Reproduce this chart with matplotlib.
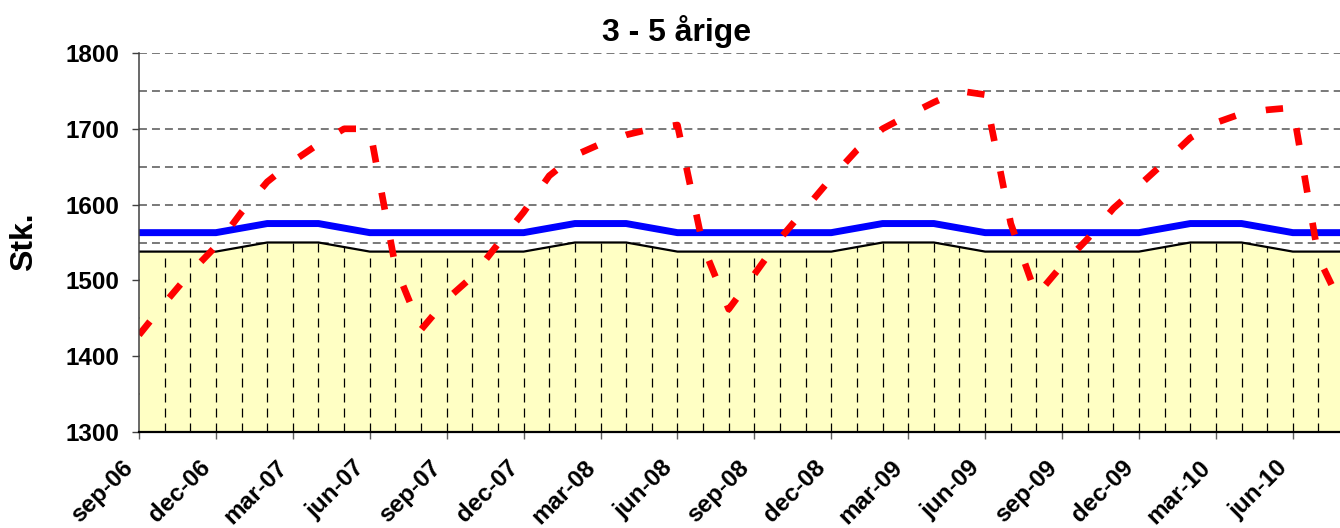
import matplotlib
matplotlib.use("Agg")
import matplotlib.pyplot as plt
import matplotlib.transforms as mtransforms
import numpy as np

plt.rcParams['font.family'] = ['Liberation Sans', 'DejaVu Sans']
plt.rcParams['font.weight'] = 'bold'

# monthly values, sep-06 .. aug-10
faktisk = [1428, 1470, 1510, 1545, 1590, 1630, 1657, 1680, 1700, 1700, 1518, 1435,
           1475, 1505, 1548, 1590, 1638, 1665, 1680, 1692, 1700, 1705, 1545, 1462,
           1508, 1555, 1595, 1635, 1672, 1700, 1718, 1735, 1750, 1745, 1575, 1480,
           1520, 1555, 1595, 1625, 1656, 1688, 1708, 1720, 1725, 1728, 1530, 1460]
kapacitet = [1563, 1563, 1563, 1563, 1569, 1575, 1575, 1575, 1569, 1563, 1563, 1563,
             1563, 1563, 1563, 1563, 1569, 1575, 1575, 1575, 1569, 1563, 1563, 1563,
             1563, 1563, 1563, 1563, 1569, 1575, 1575, 1575, 1569, 1563, 1563, 1563,
             1563, 1563, 1563, 1563, 1569, 1575, 1575, 1575, 1569, 1563, 1563, 1563]
normering = [1538, 1538, 1538, 1538, 1544, 1550, 1550, 1550, 1544, 1538, 1538, 1538,
             1538, 1538, 1538, 1538, 1544, 1550, 1550, 1550, 1544, 1538, 1538, 1538,
             1538, 1538, 1538, 1538, 1544, 1550, 1550, 1550, 1544, 1538, 1538, 1538,
             1538, 1538, 1538, 1538, 1544, 1550, 1550, 1550, 1544, 1538, 1538, 1538]
tick_labels = ['sep-06', 'dec-06', 'mar-07', 'jun-07', 'sep-07', 'dec-07', 'mar-08',
               'jun-08', 'sep-08', 'dec-08', 'mar-09', 'jun-09', 'sep-09', 'dec-09',
               'mar-10', 'jun-10']

x = np.arange(len(faktisk))
ymin = 1300

fig = plt.figure(figsize=(13.4, 5.28), dpi=100)
ax = fig.add_axes([139 / 1340, 96 / 528, 1 - 139 / 1340, 379 / 528])

# horizontal grid (behind the fill)
for g in np.arange(1350, 1801, 50):
    ax.axhline(g, color='#555555', lw=1.1, dashes=(5.2, 3.3), zorder=0.5)

ax.fill_between(x, ymin, normering, color='#FFFFC4', lw=0, zorder=1)
ax.vlines(x[1:], ymin, np.array(normering)[1:], colors='black', lw=0.9,
          linestyles=[(0, (7.2, 4.8))], zorder=1.5)
ax.plot(x, normering, color='black', lw=1.6, zorder=2)
ax.plot(x, kapacitet, color='#0000FF', lw=5, solid_joinstyle='round', zorder=3)
ax.plot(x, faktisk, color='#FF0000', lw=4.8, dashes=(2.6, 4.6), zorder=4)

ax.set_xlim(0, 46.84)
ax.set_ylim(ymin, 1800)
ax.set_yticks(np.arange(1300, 1801, 100))
ax.set_xticks(np.arange(0, 46, 3))
ax.set_xticklabels(tick_labels, rotation=45, ha='right', va='center',
                   rotation_mode='anchor', fontsize=17.5, fontweight='bold')
ax.tick_params(axis='y', labelsize=17.5, length=5, width=1, color='#404040', pad=9)
ax.tick_params(axis='x', length=5, width=1, color='#606060', pad=18)
for lbl in ax.get_yticklabels():
    lbl.set_fontweight('bold')
shift = mtransforms.ScaledTranslation(-9 / 100, 0, fig.dpi_scale_trans)
for lbl in ax.get_xticklabels():
    lbl.set_transform(lbl.get_transform() + shift)

ax.spines['top'].set_visible(False)
ax.spines['right'].set_visible(False)
ax.spines['left'].set_color('#404040')
ax.spines['left'].set_linewidth(1.1)
ax.spines['bottom'].set_color('black')
ax.spines['bottom'].set_linewidth(1.6)
ax.spines['left'].set_zorder(5)
ax.spines['bottom'].set_zorder(5)

fig.text(24 / 1340, 1 - 242 / 528, 'Stk.', rotation=90, ha='center', va='center',
         fontsize=23, fontweight='bold')
fig.text(677 / 1340, 1 - 32 / 528, '3 - 5 årige', ha='center', va='center',
         fontsize=23, fontweight='bold')

fig.savefig('out.png', dpi=100)
